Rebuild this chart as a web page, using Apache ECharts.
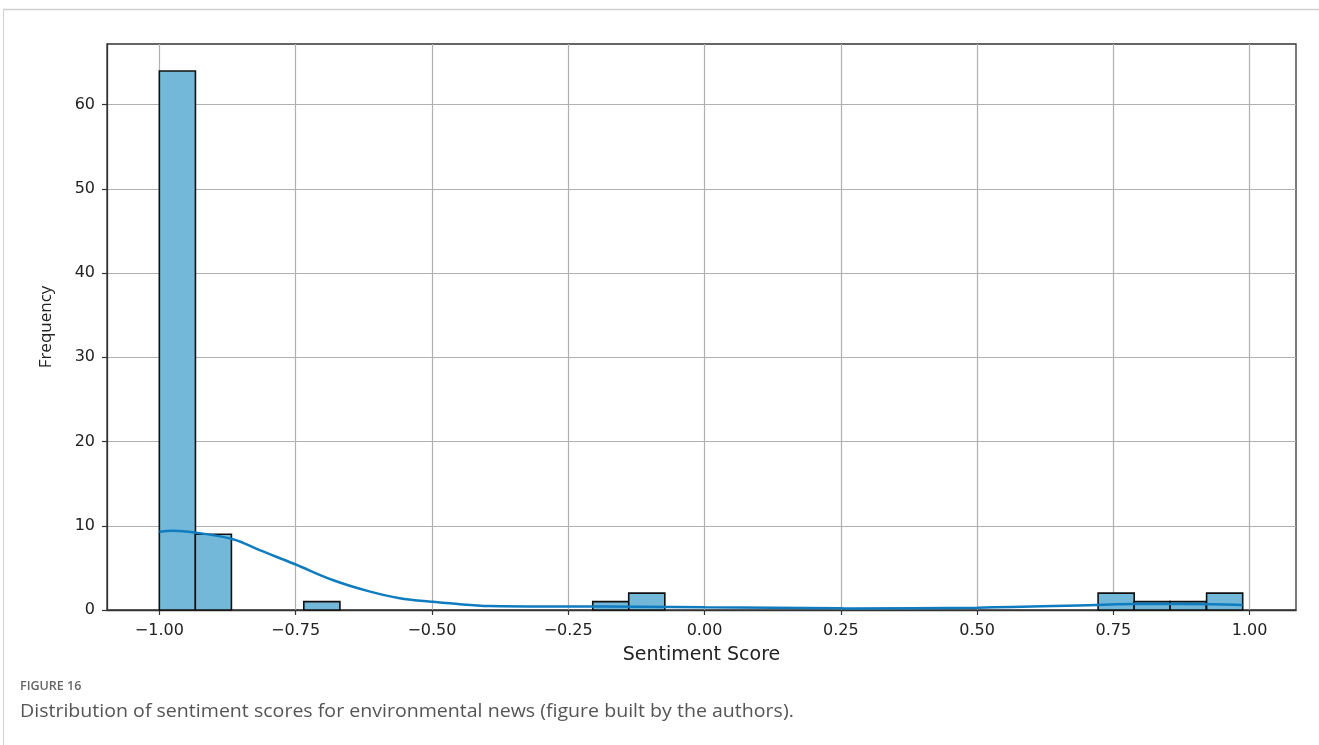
<!DOCTYPE html>
<html>
<head>
<meta charset="utf-8">
<style>
  html, body { margin: 0; padding: 0; background: #ffffff; }
  #chart { width: 1319px; height: 745px; }
</style>
<script src="https://cdn.jsdelivr.net/npm/echarts@6/dist/echarts.min.js"></script>
</head>
<body>
<div id="chart"></div>
<script>
// Histogram bins (left edge of each non-empty bin) and their counts
const binWidth = 0.06623;
const binStart = [-1.000, -0.934, -0.735, -0.205, -0.139, 0.722, 0.788, 0.854, 0.921];
const binCount = [64, 9, 1, 1, 2, 2, 1, 1, 2];

// Density estimate curve, scaled to counts
const kdeX = [-1.000, -0.975, -0.933, -0.865, -0.816, -0.752, -0.682, -0.620, -0.559, -0.501, -0.467, -0.394, -0.251, -0.118, 0.001, 0.249, 0.267, 0.500, 0.720, 0.787, 0.879, 0.987];
const kdeY = [9.30, 9.42, 9.18, 8.40, 7.10, 5.46, 3.56, 2.30, 1.39, 0.99, 0.79, 0.48, 0.42, 0.40, 0.32, 0.20, 0.18, 0.28, 0.60, 0.70, 0.70, 0.60];

// Axis ticks
const xTicks = [-1.00, -0.75, -0.50, -0.25, 0.00, 0.25, 0.50, 0.75, 1.00];
const yTicks = [0, 10, 20, 30, 40, 50, 60];

const barColor = '#74b8d9';
const lineColor = '#0f7cbf';

const chart = echarts.init(document.getElementById('chart'), null, { renderer: 'canvas' });

const fmtX = v => (v < 0 ? '\u2212' : '') + Math.abs(v).toFixed(2);

const option = {
  animation: false,
  backgroundColor: '#ffffff',
  grid: {
    left: 107, right: 23, top: 44, bottom: 135,
    show: true, borderColor: '#333333', borderWidth: 1.3, backgroundColor: 'transparent'
  },
  xAxis: {
    type: 'value',
    min: -1.096,
    max: 1.085,
    name: 'Sentiment Score',
    nameLocation: 'middle',
    nameGap: 36,
    nameTextStyle: { fontFamily: 'DejaVu Sans', fontSize: 19, color: '#222222' },
    axisLine: { show: true, onZero: false, lineStyle: { color: '#333333', width: 1.3 } },
    axisTick: { show: true, length: 5, customValues: xTicks, lineStyle: { color: '#333333', width: 1.2 } },
    axisLabel: {
      customValues: xTicks,
      formatter: fmtX,
      fontFamily: 'DejaVu Sans', fontSize: 16, color: '#222222', margin: 13
    },
    splitLine: { show: true, lineStyle: { color: '#b0b0b0', width: 1.2 } }
  },
  yAxis: {
    type: 'value',
    min: 0,
    max: 67.2,
    interval: 10,
    name: 'Frequency',
    nameLocation: 'middle',
    nameGap: 52,
    nameTextStyle: { fontFamily: 'Open Sans', fontSize: 17, color: '#222222' },
    axisLine: { show: true, onZero: false, lineStyle: { color: '#333333', width: 1.3 } },
    axisTick: { show: true, length: 5, customValues: yTicks, lineStyle: { color: '#333333', width: 1.2 } },
    axisLabel: {
      customValues: yTicks,
      fontFamily: 'DejaVu Sans', fontSize: 16, color: '#222222', margin: 12
    },
    splitLine: { show: true, lineStyle: { color: '#b0b0b0', width: 1.2 } }
  },
  series: [
    {
      type: 'custom',
      name: 'bins',
      z: 2,
      data: binStart.map((s, i) => [s, s + binWidth, binCount[i]]),
      encode: { x: [0, 1], y: 2 },
      renderItem: function (params, api) {
        const p0 = api.coord([api.value(0), api.value(2)]);
        const p1 = api.coord([api.value(1), 0]);
        return {
          type: 'rect',
          shape: { x: p0[0], y: p0[1], width: p1[0] - p0[0], height: p1[1] - p0[1] },
          style: { fill: barColor, stroke: '#111111', lineWidth: 1.6 }
        };
      }
    },
    {
      type: 'line',
      name: 'kde',
      z: 3,
      smooth: 0.4,
      showSymbol: false,
      data: kdeX.map((x, i) => [x, kdeY[i]]),
      lineStyle: { color: lineColor, width: 2.5 }
    }
  ],
  graphic: [
    { type: 'line', shape: { x1: 3, y1: 9.5, x2: 1319, y2: 9.5 }, style: { stroke: '#d0d0d0', lineWidth: 1.5 } },
    { type: 'line', shape: { x1: 3.5, y1: 9, x2: 3.5, y2: 745 }, style: { stroke: '#d0d0d0', lineWidth: 1 } },
    {
      type: 'text', left: 20, top: 680,
      style: { text: 'FIGURE 16', fontFamily: 'Open Sans', fontSize: 12.5, fontWeight: 600, fill: '#666666' }
    },
    {
      type: 'text', x: 20, y: 703, scaleX: 1.087,
      style: { text: 'Distribution of sentiment scores for environmental news (figure built by the authors).', fontFamily: 'Open Sans', fontSize: 18, fill: '#555555' }
    }
  ]
};

chart.setOption(option);
</script>
</body>
</html>
